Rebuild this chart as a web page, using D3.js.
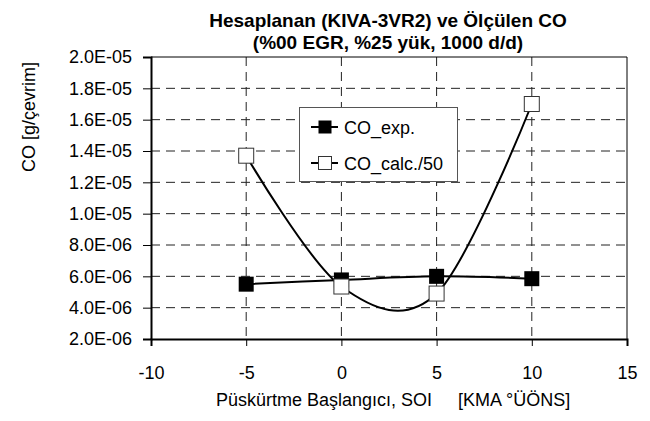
<!DOCTYPE html>
<html>
<head>
<meta charset="utf-8">
<script src="https://cdn.jsdelivr.net/npm/d3@7"></script>
<style>
  body { margin: 0; background: #fff; }
  svg text { font-family: "Liberation Sans", Arial, sans-serif; fill: #000; }
</style>
</head>
<body>
<div id="chart"></div>
<script>
// data
const soi = [-5, 0, 5, 10];
const coExp = [5.5e-6, 5.77e-6, 6.0e-6, 5.85e-6];
const coCalc = [1.37e-5, 5.35e-6, 4.9e-6, 1.7e-5];
const xTicks = [-10, -5, 0, 5, 10, 15];
const yTicks = [2e-6, 4e-6, 6e-6, 8e-6, 1e-5, 1.2e-5, 1.4e-5, 1.6e-5, 1.8e-5, 2e-5];
const titleLines = ['Hesaplanan (KIVA-3VR2) ve Ölçülen CO', '(%00 EGR, %25 yük, 1000 d/d)'];
const seriesNames = ['CO_exp.', 'CO_calc./50'];

const width = 650, height = 421;
const margin = { top: 57, right: 23, bottom: 82, left: 151 };

const svg = d3.select('#chart').append('svg')
    .attr('width', width)
    .attr('height', height);

const x = d3.scaleLinear().domain([-10, 15]).range([margin.left, width - margin.right]);
const y = d3.scaleLinear().domain([2e-6, 2e-5]).range([height - margin.bottom, margin.top]);

// excel style "2.0E-05"
const sci = v => {
    const e = Math.floor(Math.log10(v) + 1e-9);
    const m = v / Math.pow(10, e);
    const sign = e < 0 ? '-' : '+';
    return m.toFixed(1) + 'E' + sign + String(Math.abs(e)).padStart(2, '0');
};

// gridlines
svg.append('g')
    .selectAll('line')
    .data(yTicks.slice(1, -1))
    .enter().append('line')
    .attr('x1', x(-10)).attr('x2', x(15))
    .attr('y1', d => y(d)).attr('y2', d => y(d))
    .attr('stroke', '#222').attr('stroke-width', 1)
    .attr('stroke-dasharray', '9,6');

svg.append('g')
    .selectAll('line')
    .data(xTicks.slice(1, -1))
    .enter().append('line')
    .attr('x1', d => x(d)).attr('x2', d => x(d))
    .attr('y1', y(2e-5)).attr('y2', y(2e-6))
    .attr('stroke', '#222').attr('stroke-width', 1)
    .attr('stroke-dasharray', '9,6');

// top and right frame
svg.append('path')
    .attr('d', `M${x(-10)},${y(2e-5)}H${x(15)}V${y(2e-6)}`)
    .attr('fill', 'none').attr('stroke', '#000').attr('stroke-width', 1);

// axes
const xAxis = svg.append('g')
    .attr('transform', `translate(0,${y(2e-6)})`)
    .call(d3.axisBottom(x).tickValues(xTicks).tickSize(7).tickPadding(20).tickFormat(d => String(d)));
const yAxis = svg.append('g')
    .attr('transform', `translate(${x(-10)},0)`)
    .call(d3.axisLeft(y).tickValues(yTicks).tickSize(8).tickPadding(11).tickFormat(sci));

[xAxis, yAxis].forEach(g => {
    g.select('.domain').attr('stroke', '#000').attr('stroke-width', 2);
    g.selectAll('.tick line').attr('stroke', '#000');
    g.selectAll('.tick text').style('font-size', '18px').attr('fill', '#000');
});

// series
const line = d3.line()
    .x(d => x(d[0]))
    .y(d => y(d[1]))
    .curve(d3.curveCardinal.tension(0));

const expPts = soi.map((s, i) => [s, coExp[i]]);
const calcPts = soi.map((s, i) => [s, coCalc[i]]);

svg.append('path').datum(expPts)
    .attr('d', line).attr('fill', 'none')
    .attr('stroke', '#000').attr('stroke-width', 2);
svg.append('g').selectAll('rect')
    .data(expPts).enter().append('rect')
    .attr('x', d => x(d[0]) - 7.5).attr('y', d => y(d[1]) - 7.5)
    .attr('width', 15).attr('height', 15)
    .attr('fill', '#000');

svg.append('path').datum(calcPts)
    .attr('d', line).attr('fill', 'none')
    .attr('stroke', '#000').attr('stroke-width', 2);
svg.append('g').selectAll('rect')
    .data(calcPts).enter().append('rect')
    .attr('x', d => x(d[0]) - 7.5).attr('y', d => y(d[1]) - 7.5)
    .attr('width', 15).attr('height', 15)
    .attr('fill', '#fff').attr('stroke', '#333').attr('stroke-width', 1);

// legend
const legend = svg.append('g').attr('transform', 'translate(299,107)');
legend.append('rect')
    .attr('x', 0.5).attr('y', 0.5)
    .attr('width', 158).attr('height', 74)
    .attr('fill', '#fff').attr('stroke', '#555');
seriesNames.forEach((name, i) => {
    const g = legend.append('g').attr('transform', `translate(0,${20 + i * 36})`);
    g.append('line').attr('x1', 12).attr('x2', 39).attr('stroke', '#000').attr('stroke-width', 2);
    g.append('rect')
        .attr('x', 26 - 6.5).attr('y', -6.5).attr('width', 13).attr('height', 13)
        .attr('fill', i === 0 ? '#000' : '#fff')
        .attr('stroke', i === 0 ? 'none' : '#333');
    g.append('text')
        .attr('x', 45).attr('y', 6.5)
        .style('font-size', '18px')
        .text(name);
});

// titles
svg.append('g').selectAll('text')
    .data(titleLines).enter().append('text')
    .attr('x', 388).attr('y', (d, i) => 27 + i * 22)
    .attr('text-anchor', 'middle')
    .style('font-size', '19px').style('font-weight', 'bold')
    .text(d => d);

svg.append('text')
    .attr('transform', 'translate(35,117) rotate(-90)')
    .attr('text-anchor', 'middle')
    .style('font-size', '18px')
    .text('CO [g/çevrim]');

svg.append('text')
    .attr('x', 432).attr('y', 406)
    .attr('text-anchor', 'end')
    .style('font-size', '18px')
    .text('Püskürtme Başlangıcı, SOI');
svg.append('text')
    .attr('x', 458).attr('y', 406)
    .style('font-size', '18px')
    .text('[KMA °ÜÖNS]');
</script>
</body>
</html>
